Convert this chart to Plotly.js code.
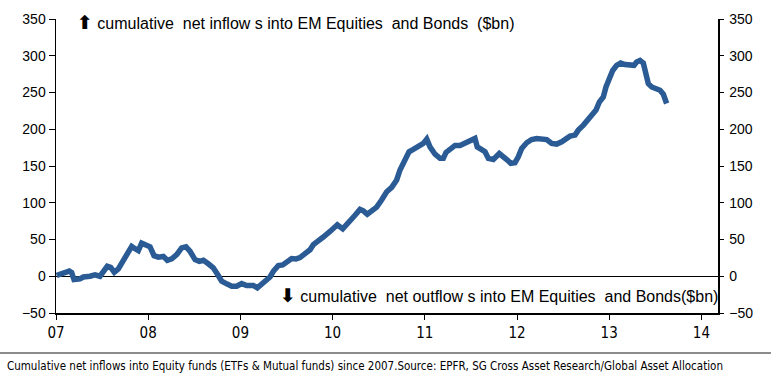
<!DOCTYPE html>
<html>
<head>
<meta charset="utf-8">
<script src="https://cdn.plot.ly/plotly-3.0.1.min.js"></script>
<style>html,body{margin:0;padding:0;background:#fff;}#chart{width:771px;height:381px;}</style>
</head>
<body>
<div id="chart"></div>
<script>
// time in decimal years
const years = [2007.007,2007.079,2007.144,2007.170,2007.195,2007.260,2007.296,2007.369,2007.423,2007.477,
2007.513,2007.556,2007.593,2007.632,2007.676,2007.713,2007.759,2007.821,2007.857,2007.893,2007.929,2007.976,
2008.020,2008.063,2008.110,2008.164,2008.207,2008.255,2008.309,2008.363,2008.410,2008.453,2008.508,2008.554,
2008.598,2008.652,2008.706,2008.760,2008.797,2008.851,2008.906,2008.960,2009.014,2009.068,2009.140,2009.183,
2009.231,2009.285,2009.321,2009.357,2009.411,2009.459,2009.502,2009.556,2009.603,2009.646,2009.701,2009.755,
2009.791,2009.845,2009.899,2009.972,2010.026,2010.051,2010.110,2010.189,2010.243,2010.297,2010.333,2010.376,
2010.424,2010.478,2010.533,2010.587,2010.641,2010.695,2010.731,2010.774,2010.803,2010.829,2010.875,2010.929,
2010.984,2011.021,2011.056,2011.111,2011.165,2011.201,2011.230,2011.273,2011.328,2011.382,2011.436,2011.490,
2011.544,2011.569,2011.617,2011.653,2011.689,2011.743,2011.808,2011.852,2011.895,2011.932,2011.978,2012.014,
2012.051,2012.105,2012.159,2012.214,2012.268,2012.322,2012.376,2012.430,2012.485,2012.539,2012.575,2012.629,
2012.665,2012.720,2012.774,2012.822,2012.857,2012.893,2012.936,2012.965,2013.001,2013.038,2013.081,2013.124,
2013.171,2013.226,2013.269,2013.298,2013.334,2013.370,2013.399,2013.424,2013.461,2013.515,2013.551,2013.587,
2013.623];
const flows = [1,4,7,5,-4.5,-3.5,-1,0,2,0,
5.5,13.5,12,5.5,10,18,28.5,40.6,37.5,35,45,42,
40,28,26,27,21.7,23.6,29.4,38.5,40,34,22.6,20.3,
21.7,17,11.4,1,-6.8,-10.3,-13.5,-13.5,-10,-12.6,-12.6,-15.8,
-11.3,-4.5,-1,6.8,14.5,15.4,20.3,24,23.6,25.3,30.8,36,
43,47.4,53.4,61,67.7,70,64.5,74,83,91,89,84.5,
89,94,104,115,121,131,144.6,156,162.6,169.4,172.6,176,
180.7,186.6,176,166,160.4,160.4,168.5,172.6,178,178,181,186,
187.5,176,172.6,169.4,160.4,159,167,163.5,158,153.6,154.5,162.6,
174,181.6,186,187.5,186,186,180.7,179.8,183,187.5,190.6,192,
198.8,205.6,214.6,220.5,226,237,244,257.5,271,280,287,290,
288,288,287,291.5,293.6,290,275.6,262,257.5,254,253,247.6,
235];
const xTickVals = [2007,2008,2009,2010,2011,2012,2013,2014];
const xTickText = ["07","08","09","10","11","12","13","14"];
const yTickVals = [-50,0,50,100,150,200,250,300,350];

const sp = "\u00a0";
const arrowStyle = "font-family:'DejaVu Sans';font-weight:bold;color:#000;font-size:19px";
const topNote = "<span style=\"" + arrowStyle + "\">\u2B06</span> cumulative" + sp + " net inflow s into EM Equities" + sp + " and Bonds" + sp + " ($bn)";
const bottomNote = "<span style=\"" + arrowStyle + "\">\u2B07</span> cumulative" + sp + " net outflow s into EM Equities" + sp + " and Bonds($bn)";
const footnote = "Cumulative net inflows into Equity funds (ETFs & Mutual funds) since 2007.Source: EPFR, SG Cross Asset Research/Global Asset Allocation";

const narrow = "'Liberation Sans Narrow', 'DejaVu Sans Condensed', Arial, sans-serif";
const sans = "'Liberation Sans', Arial, sans-serif";

const traces = [
  {x: years, y: flows, type: 'scatter', mode: 'lines',
   line: {color: '#2B5B94', width: 5.5, shape: 'linear'}, hoverinfo: 'skip', showlegend: false},
  {x: years, y: flows, type: 'scatter', mode: 'lines', yaxis: 'y2',
   line: {color: 'rgba(0,0,0,0)', width: 1}, hoverinfo: 'skip', showlegend: false}
];

const layout = {
  width: 771, height: 381,
  margin: {l: 56, r: 53, t: 18.5, b: 68, pad: 0},
  paper_bgcolor: '#fff', plot_bgcolor: '#fff',
  showlegend: false,
  xaxis: {
    range: [2007, 2014.18], tickvals: xTickVals, ticktext: xTickText,
    showgrid: false, zeroline: false, showline: true, linecolor: '#000', linewidth: 1.5,
    ticks: 'outside', ticklen: 5, tickcolor: '#000', tickwidth: 1,
    tickfont: {family: narrow, size: 15, color: '#000'}
  },
  yaxis: {
    range: [-50, 350], tickvals: yTickVals,
    showgrid: false, zeroline: true, zerolinecolor: '#000', zerolinewidth: 1.5,
    showline: true, linecolor: '#000', linewidth: 1.5,
    ticks: 'outside', ticklen: 6, tickcolor: '#000', tickwidth: 1,
    tickfont: {family: sans, size: 14, color: '#000'}
  },
  yaxis2: {
    range: [-50, 350], tickvals: yTickVals, overlaying: 'y', side: 'right',
    showgrid: false, zeroline: false,
    showline: true, linecolor: '#000', linewidth: 1.5,
    ticks: 'outside', ticklen: 4, tickcolor: '#000', tickwidth: 1,
    tickfont: {family: sans, size: 14, color: '#000'}, ticklabelstandoff: 3
  },
  annotations: [
    {xref: 'paper', yref: 'paper', x: 0.0287, y: 0.9885, xanchor: 'left', yanchor: 'middle',
     text: topNote, showarrow: false, font: {family: sans, size: 16, color: '#000'}},
    {xref: 'paper', yref: 'paper', x: 0.335, y: 0.061, xanchor: 'left', yanchor: 'middle',
     text: bottomNote, showarrow: false, font: {family: sans, size: 16, color: '#000'}},
    {xref: 'paper', yref: 'paper', x: -0.077, y: -0.18, xanchor: 'left', yanchor: 'middle',
     text: footnote, showarrow: false, font: {family: narrow, size: 11.5, color: '#000'}}
  ],
  shapes: [
    {type: 'line', xref: 'paper', yref: 'paper', x0: -0.0846, x1: 1.08, y0: -0.1358, y1: -0.1358,
     line: {color: '#8c8c8c', width: 2}}
  ]
};

Plotly.newPlot('chart', traces, layout, {displayModeBar: false, staticPlot: true});
</script>
</body>
</html>
